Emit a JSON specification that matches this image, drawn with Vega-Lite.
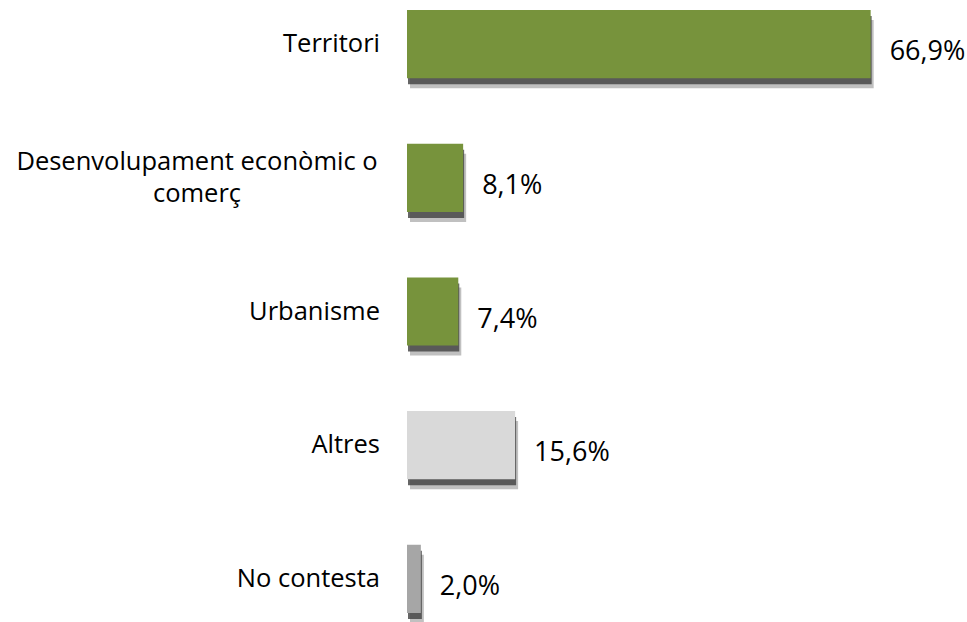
{
  "$schema": "https://vega.github.io/schema/vega-lite/v6.json",
  "autosize": {"type": "none"},
  "width": 560,
  "height": 603,
  "padding": {"left": 407, "top": 10, "right": 0, "bottom": 9},
  "config": {
    "view": {"stroke": null},
    "locale": {"number": {"decimal": ",", "thousands": ".", "grouping": [3], "currency": ["", " €"]}},
    "text": {"font": "Open Sans", "color": "#000000"}
  },
  "data": {
    "values": [
      {"categoria": "Territori", "valor": 0.669},
      {"categoria": "Desenvolupament econòmic o comerç", "valor": 0.081},
      {"categoria": "Urbanisme", "valor": 0.074},
      {"categoria": "Altres", "valor": 0.156},
      {"categoria": "No contesta", "valor": 0.020}
    ]
  },
  "encoding": {
    "y": {
      "field": "categoria",
      "type": "nominal",
      "sort": null,
      "axis": null,
      "scale": {"paddingInner": 0.49, "paddingOuter": 0}
    }
  },
  "layer": [
    {
      "mark": {"type": "bar", "color": "#8c8c8c", "opacity": 0.55, "yOffset": 10, "xOffset": 3},
      "encoding": {
        "x": {"field": "valor", "type": "quantitative", "axis": null, "scale": {"domain": [0, 0.808], "nice": false, "zero": true}}
      }
    },
    {
      "mark": {"type": "bar", "color": "#3f3f3f", "opacity": 0.8, "yOffset": 6, "xOffset": 1},
      "encoding": {
        "x": {"field": "valor", "type": "quantitative"}
      }
    },
    {
      "mark": {"type": "bar"},
      "encoding": {
        "x": {"field": "valor", "type": "quantitative"},
        "color": {
          "field": "categoria",
          "type": "nominal",
          "legend": null,
          "scale": {
            "domain": ["Territori", "Desenvolupament econòmic o comerç", "Urbanisme", "Altres", "No contesta"],
            "range": ["#77933c", "#77933c", "#77933c", "#d9d9d9", "#a6a6a6"]
          }
        }
      }
    },
    {
      "mark": {"type": "text", "align": "left", "baseline": "middle", "dx": 19, "dy": 8, "fontSize": 27},
      "encoding": {
        "x": {"field": "valor", "type": "quantitative"},
        "text": {"field": "valor", "type": "quantitative", "format": ".1%"}
      }
    },
    {
      "transform": [{"filter": "datum.categoria != 'Desenvolupament econòmic o comerç'"}],
      "mark": {"type": "text", "align": "right", "baseline": "middle", "dx": -27, "dy": 0, "fontSize": 25.5},
      "encoding": {
        "x": {"datum": 0, "type": "quantitative"},
        "text": {"field": "categoria"}
      }
    },
    {
      "transform": [{"filter": "datum.categoria == 'Desenvolupament econòmic o comerç'"}],
      "mark": {"type": "text", "align": "center", "baseline": "middle", "dx": -210, "dy": -16, "fontSize": 25.5, "lineHeight": 32},
      "encoding": {
        "x": {"datum": 0, "type": "quantitative"},
        "text": {"value": ["Desenvolupament econòmic o", "comerç"]}
      }
    }
  ]
}
